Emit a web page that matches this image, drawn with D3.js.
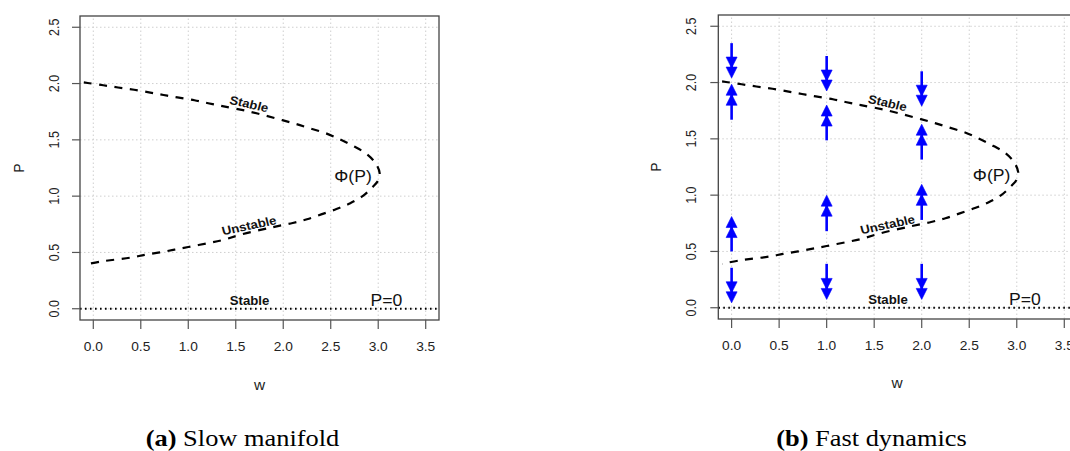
<!DOCTYPE html>
<html><head><meta charset="utf-8">
<script src="https://cdn.jsdelivr.net/npm/d3@7"></script>
<style>body{margin:0;background:#fff;} svg{display:block;}
.sans{font-family:"Liberation Sans","Arimo",Arial,Helvetica,sans-serif;}
.serif{font-family:"Liberation Serif","Tinos","Times New Roman",Times,serif;}
</style>
</head><body>
<svg id="c" width="1070" height="451"></svg>
<script>
// ---------------- data ----------------
const xTicks = [0, 0.5, 1, 1.5, 2, 2.5, 3, 3.5];
const xTickLabels = ["0.0", "0.5", "1.0", "1.5", "2.0", "2.5", "3.0", "3.5"];
const yTicks = [0, 0.5, 1, 1.5, 2, 2.5];
const yTickLabels = ["0.0", "0.5", "1.0", "1.5", "2.0", "2.5"];
const xDomain = [-0.14, 3.64];
const yDomain = [-0.1, 2.6];

// slow manifold Phi(P) (w, P)
const manifoldW = [-0.1, -0.04, 0.105, 0.26, 0.43, 0.60, 0.74, 0.885, 1.065, 1.21, 1.36, 1.64, 1.99, 2.14, 2.28, 2.45, 2.59, 2.73, 2.87, 2.97, 3.015, 3.0, 2.94, 2.836, 2.70, 2.56, 2.40, 2.25, 2.10, 1.876, 1.56, 1.36, 1.19, 1.0, 0.854, 0.70, 0.54, 0.40, 0.084, -0.1];
const manifoldP = [2.01, 2.003, 1.985, 1.965, 1.945, 1.92, 1.898, 1.877, 1.852, 1.825, 1.80, 1.752, 1.675, 1.64, 1.603, 1.558, 1.507, 1.448, 1.38, 1.295, 1.205, 1.14, 1.08, 1.0, 0.935, 0.885, 0.838, 0.795, 0.762, 0.722, 0.66, 0.61, 0.58, 0.548, 0.525, 0.50, 0.478, 0.455, 0.42, 0.39];

// fast-dynamics arrows (panel b)
const arrowW    = [0, 0, 0, 0, 1, 1, 1, 1, 2, 2, 2, 2];
const arrowFrom = [2.35, 1.67, 0.50, 0.355, 2.236, 1.487, 0.68, 0.39, 2.10, 1.316, 0.78, 0.39];
const arrowTo   = [2.04, 1.985, 0.81, 0.044, 1.925, 1.80, 1.00, 0.074, 1.79, 1.63, 1.096, 0.074];

// annotations
const labelText = ["Stable", "Unstable", "Stable", "P=0", "\u03A6(P)"];
const labelW = [1.64, 1.64, 1.645, 3.085, 2.735];
const labelP = [1.82, 0.74, 0.074, 0.074, 1.18];

const captionBold = ["(a)", "(b)"];
const captionText = [" Slow manifold", " Fast dynamics"];
const axisTitleX = "w";
const axisTitleY = "P";

// ---------------- drawing ----------------
const SX = 1.1; // horizontal stretch of the original figure
const svg = d3.select("#c");

function tf(x, y, rot) {
  return `translate(${x},${y}) scale(${SX},1)` + (rot ? ` rotate(${rot})` : "");
}

const labelStyle = [
  {size: 12, weight: "bold", rot: 14},
  {size: 12, weight: "bold", rot: -13},
  {size: 12, weight: "bold", rot: 0},
  {size: 16, weight: "normal", rot: 0},
  {size: 16, weight: "normal", rot: 0}
];

const panels = [
  {x0: 80, x1: 439, y0: 320, y1: 16, arrows: false, capX: 242.5, yLabX: 58.5, yTitleX: 24, xTitleY: 390},
  {x0: 718.3, x1: 1077.6, y0: 319, y1: 15, arrows: true, capX: 871.5, yLabX: 696, yTitleX: 661, xTitleY: 388}
];

panels.forEach((p, pi) => {
  const x = d3.scaleLinear().domain(xDomain).range([p.x0, p.x1]);
  const y = d3.scaleLinear().domain(yDomain).range([p.y0, p.y1]);
  const g = svg.append("g");

  // grid
  g.selectAll(".gx").data(xTicks).enter().append("line")
    .attr("x1", d => x(d)).attr("x2", d => x(d))
    .attr("y1", p.y0).attr("y2", p.y1)
    .attr("stroke", "#cfcfcf").attr("stroke-width", 1).attr("stroke-dasharray", "1.5,2.5");
  g.selectAll(".gy").data(yTicks).enter().append("line")
    .attr("x1", p.x0).attr("x2", p.x1)
    .attr("y1", d => y(d)).attr("y2", d => y(d))
    .attr("stroke", "#cfcfcf").attr("stroke-width", 1).attr("stroke-dasharray", "1.5,2.5");

  // P = 0 dotted line
  g.append("line")
    .attr("x1", p.x0).attr("x2", p.x1).attr("y1", y(0)).attr("y2", y(0))
    .attr("stroke", "#000").attr("stroke-width", 1.8).attr("stroke-dasharray", "1.6,3.4");

  // manifold
  const pts = manifoldW.map((w, i) => [w, manifoldP[i]]);
  const line = d3.line().x(d => x(d[0])).y(d => y(d[1])).curve(d3.curveCatmullRom.alpha(0.5));
  g.append("path").attr("d", line(pts))
    .attr("fill", "none").attr("stroke", "#000").attr("stroke-width", 2.2)
    .attr("stroke-dasharray", "8,7.5");

  // arrows
  if (p.arrows) {
    arrowW.forEach((w, i) => {
      const ax = x(w);
      const yf = y(arrowFrom[i]), yt = y(arrowTo[i]);
      const dir = yt > yf ? 1 : -1;
      g.append("line").attr("x1", ax).attr("x2", ax)
        .attr("y1", yf).attr("y2", yt - dir * 4)
        .attr("stroke", "#0000ff").attr("stroke-width", 2.6);
      [0, 10].forEach(off => {
        const tip = yt - dir * off;
        const base = tip - dir * 11;
        g.append("path")
          .attr("d", `M${ax},${tip}L${ax - 5.5},${base}L${ax + 5.5},${base}Z`)
          .attr("fill", "#0000ff").attr("stroke", "#0000ff").attr("stroke-width", 0.6);
      });
    });
  }

  // annotations
  labelText.forEach((t, i) => {
    const s = labelStyle[i];
    g.append("text").attr("class", "sans").attr("transform", tf(x(labelW[i]), y(labelP[i]), s.rot))
      .attr("text-anchor", "middle").attr("dy", "0.36em")
      .attr("font-size", s.size).attr("font-weight", s.weight)
      .attr("fill", "#111").text(t);
  });

  // box
  g.append("rect").attr("x", p.x0).attr("y", p.y1)
    .attr("width", p.x1 - p.x0).attr("height", p.y0 - p.y1)
    .attr("fill", "none").attr("stroke", "#444").attr("stroke-width", 1.3);

  // x axis ticks
  g.selectAll(".tx").data(xTicks).enter().append("line")
    .attr("x1", d => x(d)).attr("x2", d => x(d))
    .attr("y1", p.y0).attr("y2", p.y0 + 9)
    .attr("stroke", "#555").attr("stroke-width", 1.2);
  xTicks.forEach((d, i) => {
    g.append("text").attr("class", "sans").attr("transform", tf(x(d), p.y0 + 31))
      .attr("text-anchor", "middle").attr("font-size", 12.5)
      .attr("fill", "#222").text(xTickLabels[i]);
  });
  // y axis ticks
  g.selectAll(".ty").data(yTicks).enter().append("line")
    .attr("x1", p.x0 - 8).attr("x2", p.x0)
    .attr("y1", d => y(d)).attr("y2", d => y(d))
    .attr("stroke", "#555").attr("stroke-width", 1.2);
  yTicks.forEach((d, i) => {
    g.append("text").attr("class", "sans").attr("transform", tf(p.yLabX, y(d), -90))
      .attr("text-anchor", "middle").attr("font-size", 12.5)
      .attr("fill", "#222").text(yTickLabels[i]);
  });

  // axis titles
  g.append("text").attr("class", "sans").attr("transform", tf((p.x0 + p.x1) / 2 + (pi === 0 ? 0 : -1), p.xTitleY))
    .attr("text-anchor", "middle").attr("font-size", 14)
    .attr("fill", "#222").text(axisTitleX);
  g.append("text").attr("class", "sans").attr("transform", tf(p.yTitleX, y(1.25), -90))
    .attr("text-anchor", "middle").attr("font-size", 14)
    .attr("fill", "#222").text(axisTitleY);

  // caption
  const cap = svg.append("text").attr("class", "serif").attr("transform", tf(p.capX, 446))
    .attr("text-anchor", "middle")
    .attr("font-size", 24).attr("fill", "#000");
  cap.append("tspan").attr("font-weight", "bold").text(captionBold[pi]);
  cap.append("tspan").text(captionText[pi]);
});
</script>
</body></html>
